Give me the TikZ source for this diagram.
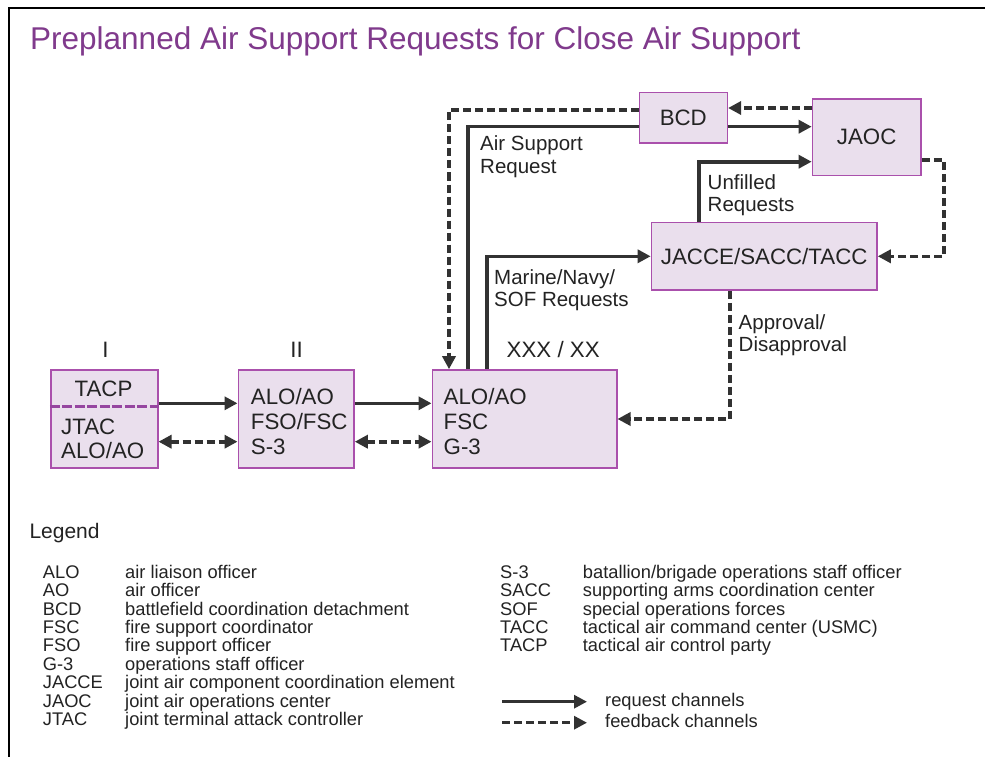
\documentclass[tikz,border=0pt]{standalone}
\usepackage{fontspec}
\setmainfont{Liberation Sans}
\usetikzlibrary{arrows.meta}
\definecolor{titlec}{RGB}{128,58,140}
\definecolor{boxfill}{RGB}{234,223,237}
\definecolor{boxline}{RGB}{170,80,172}
\definecolor{tacpline}{RGB}{150,70,160}
\definecolor{arrowc}{RGB}{50,50,50}
\definecolor{textc}{RGB}{35,35,35}
\tikzset{
  box/.style={draw=boxline, fill=boxfill, line width=1.6pt, inner sep=0pt},
  reqline/.style={draw=arrowc, line width=3.6pt},
  req/.style={reqline, -{Triangle[length=13pt,width=13pt]}},
  fbline/.style={draw=arrowc, line width=3.6pt, dash pattern=on 8pt off 4pt},
  fb/.style={fbline, -{Triangle[length=13pt,width=13pt]}},
  fbb/.style={fbline, {Triangle[length=13pt,width=13pt]}-{Triangle[length=13pt,width=13pt]}},
  boxtxt/.style={anchor=base west, inner sep=0pt, text=textc, font=\fontsize{22.3}{25}\selectfont},
  lbl/.style={anchor=base west, inner sep=0pt, text=textc, align=left, font=\fontsize{20.5}{22.6}\selectfont},
  lg/.style={anchor=base west, inner sep=0pt, text=textc, font=\fontsize{18.3}{18.4}\selectfont},
}
\begin{document}
\begin{tikzpicture}[x=1pt,y=-1pt]
\useasboundingbox (0,0) rectangle (985,757);
\fill[white] (0,0) rectangle (985,757);
% frame
\draw[line width=2.5pt, black] (9,757) -- (9,8) -- (985,8);
% title
\node[anchor=base west, inner sep=0pt, text=titlec, font=\fontsize{31.5}{37}\selectfont] (title) at (30,49.3) {Preplanned Air Support Requests for Close Air Support};

% boxes
\node[box, minimum width=107, minimum height=98] (tacp) at (104.2,419) {};
\node[box, minimum width=115.7, minimum height=98] (box2) at (296.15,419) {};
\node[box, minimum width=184.4, minimum height=98] (xxx) at (524.5,419) {};
\node[box, minimum width=88, minimum height=50.6] (bcd) at (683.3,118) {};
\node[box, minimum width=108.5, minimum height=76.7] (jaoc) at (866.7,137.3) {};
\node[box, minimum width=225.5, minimum height=67.3] (jacce) at (764.2,256.3) {};

\draw[tacpline, line width=3pt, dash pattern=on 10pt off 2.5pt] (tacp.west |- 0,406) -- (tacp.east |- 0,406);

% box texts
\node[boxtxt, anchor=base] (tacpt) at (103.5,396.7) {TACP};
\node[boxtxt] (jtac) at (61,434) {JTAC};
\node[boxtxt] (aloa) at (61,458.3) {ALO/AO};
\node[boxtxt] (alob) at (250.7,404) {ALO/AO};
\node[boxtxt] (fso) at (250.7,429) {FSO/FSC};
\node[boxtxt] (s3) at (250.7,454) {S-3};
\node[boxtxt] (aloc) at (443.5,404) {ALO/AO};
\node[boxtxt] (fsc) at (443.5,429) {FSC};
\node[boxtxt] (g3) at (443.5,454) {G-3};
\node[boxtxt, anchor=center] (bcdt) at (bcd.center) {BCD};
\node[boxtxt, anchor=center] (jaoct) at (jaoc.center) {JAOC};
\node[boxtxt, anchor=center] (jaccet) at (jacce.center) {JACCE/SACC/TACC};

% echelon labels
\node[boxtxt, anchor=base] (ech1) at (105.5,357) {I};
\node[boxtxt, anchor=base] (ech2) at (296.5,357) {II};
\node[boxtxt] (ech3) at (506.5,357.3) {XXX / XX};

% connectors
\draw[fb] (bcd.west |- 0,110) -| (xxx.north -| 449,0);
\draw[reqline] (xxx.north -| 468,0) |- (bcd.west |- 0,126.7);
\draw[req] (bcd.east |- 0,126.7) -- (jaoc.west |- 0,126.7);
\draw[fb] (jaoc.west |- 0,108) -- (bcd.east |- 0,108);
\draw[req] (jacce.north -| 698.7,0) |- (jaoc.west |- 0,161.7);
\draw[fb] (jaoc.east |- 0,160) -- ++(22,0) |- (jacce.east);
\draw[req] (xxx.north -| 487,0) |- (jacce.west);
\draw[fb] (jacce.south -| 730,0) |- (xxx.east);
\draw[req] (tacp.east |- 0,403.3) -- (box2.west |- 0,403.3);
\draw[fbb] (tacp.east |- 0,441.7) -- (box2.west |- 0,441.7);
\draw[req] (box2.east |- 0,403.3) -- (xxx.west |- 0,403.3);
\draw[fbb] (box2.east |- 0,441.7) -- (xxx.west |- 0,441.7);

% connector labels (base = last line)
\node[lbl] (l1) at (480,173.1) {Air Support\\Request};
\node[lbl] (l2) at (707.5,211.6) {Unfilled\\Requests};
\node[lbl] (l3) at (494,306.6) {Marine/Navy/\\SOF Requests};
\node[lbl] (l4) at (738.5,351.9) {Approval/\\Disapproval};

% legend
\node[anchor=base west, inner sep=0pt, text=textc, font=\fontsize{21}{24}\selectfont] (legend) at (29.3,538) {Legend};
\node[lg] (a1) at (42.7,578.3) {ALO};   \node[lg] (d1) at (125,578.3) {air liaison officer};
\node[lg] (a2) at (42.7,596.7) {AO};    \node[lg] (d2) at (125,596.7) {air officer};
\node[lg] (a3) at (42.7,615.1) {BCD};   \node[lg] (d3) at (125,615.1) {battlefield coordination detachment};
\node[lg] (a4) at (42.7,633.5) {FSC};   \node[lg] (d4) at (125,633.5) {fire support coordinator};
\node[lg] (a5) at (42.7,651.9) {FSO};   \node[lg] (d5) at (125,651.9) {fire support officer};
\node[lg] (a6) at (42.7,670.3) {G-3};   \node[lg] (d6) at (125,670.3) {operations staff officer};
\node[lg] (a7) at (42.7,688.7) {JACCE}; \node[lg] (d7) at (125,688.7) {joint air component coordination element};
\node[lg] (a8) at (42.7,707.1) {JAOC};  \node[lg] (d8) at (125,707.1) {joint air operations center};
\node[lg] (a9) at (42.7,725.5) {JTAC};  \node[lg] (d9) at (125,725.5) {joint terminal attack controller};

\node[lg] (b1) at (500,578.3) {S-3};  \node[lg] (e1) at (582.7,578.3) {batallion/brigade operations staff officer};
\node[lg] (b2) at (500,596.7) {SACC}; \node[lg] (e2) at (582.7,596.7) {supporting arms coordination center};
\node[lg] (b3) at (500,615.1) {SOF};  \node[lg] (e3) at (582.7,615.1) {special operations forces};
\node[lg] (b4) at (500,633.5) {TACC}; \node[lg] (e4) at (582.7,633.5) {tactical air command center (USMC)};
\node[lg] (b5) at (500,651.9) {TACP}; \node[lg] (e5) at (582.7,651.9) {tactical air control party};

\coordinate (r1) at (502,701.7); \coordinate (r2) at (587,701.7);
\coordinate (f1) at (502,722.7); \coordinate (f2) at (587,722.7);
\draw[req, line width=3pt] (r1) -- (r2);
\draw[fb, line width=3pt] (f1) -- (f2);
\node[lg] (rt) at (605,706.7) {request channels};
\node[lg] (ft) at (605,727.3) {feedback channels};
\end{tikzpicture}
\end{document}
